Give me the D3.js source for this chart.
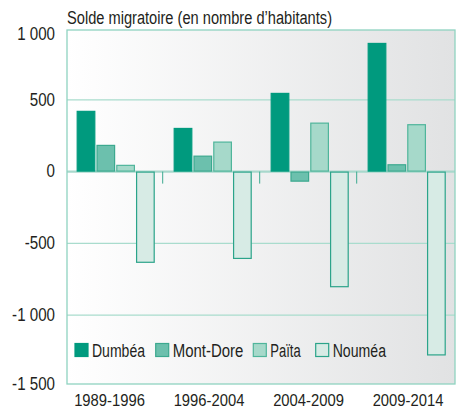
<!DOCTYPE html>
<html><head><meta charset="utf-8">
<script src="https://cdn.jsdelivr.net/npm/d3@7"></script>
<style>
html,body{margin:0;padding:0;background:#fff;}
text{font-family:"Liberation Sans",Arial,sans-serif;fill:#231f20;}
</style></head>
<body><svg id="c" width="459" height="409"></svg>
<script>
const periods = ["1989-1996","1996-2004","2004-2009","2009-2014"];
const communes = ["Dumbéa","Mont-Dore","Païta","Nouméa"];
const dumbea   = [423, 304, 548, 896];
const montDore = [186, 111, -70, 51];
const paita    = [47, 209, 341, 330];
const noumea   = [-635, -608, -805, -1280];
const yTicks = [1000, 500, 0, -500, -1000, -1500];
const title = "Solde migratoire (en nombre d’habitants)";

const series = [dumbea, montDore, paita, noumea];
const fills = ["#009a7e","#6cc0ad","#a6d9ca","#d7ebe5"];
const strokes = ["#009a7e","#3ca98f","#4fb59b","#2ba48a"];

const svg = d3.select("#c");
const L = 67, R = 455, T = 30, B = 384;
const FONT = '"Liberation Sans", Arial, sans-serif';

function condense(sel, f){
  sel.each(function(){
    const w = this.getComputedTextLength();
    d3.select(this).attr("textLength", w*f).attr("lengthAdjust","spacingAndGlyphs");
  });
}

const defs = svg.append("defs");
const g = defs.append("linearGradient").attr("id","bg").attr("x1","0").attr("x2","1").attr("y1","0").attr("y2","0");
g.append("stop").attr("offset","0").attr("stop-color","#ffffff");
g.append("stop").attr("offset","1").attr("stop-color","#e1e2e3");

const x0 = d3.scaleBand().domain(periods).range([L, R]).padding(0);
const x1 = d3.scaleBand().domain(communes).range([9.7, 87.7]).paddingInner(0.06).paddingOuter(0);
const y = d3.scaleLinear().domain([1000, -1500]).range([T - 2, B + 3]);

svg.append("rect").attr("x",L).attr("y",T).attr("width",R-L).attr("height",B-T).attr("fill","url(#bg)");

// gridlines
svg.append("g").selectAll("line").data(yTicks.filter(d => d !== 0 && d !== 1000 && d !== -1500)).join("line")
  .attr("x1",L).attr("x2",R).attr("y1",d=>y(d)).attr("y2",d=>y(d))
  .attr("stroke","#a9dccd").attr("stroke-width",1.3);

// zero line
svg.append("line").attr("x1",L).attr("x2",R).attr("y1",y(0)).attr("y2",y(0))
  .attr("stroke","#a8d8cc").attr("stroke-width",2.2);

// group separator ticks
svg.append("g").selectAll("line").data(periods.slice(1)).join("line")
  .attr("x1",d=>x0(d)-1.3).attr("x2",d=>x0(d)-1.3).attr("y1",y(0)).attr("y2",y(0)+12)
  .attr("stroke","#3ca98f").attr("stroke-width",1);

// bars
const groups = svg.append("g").selectAll("g").data(periods).join("g")
  .attr("transform", d => `translate(${x0(d)},0)`);
groups.selectAll("rect").data((p,i) => communes.map((c,k) => ({c, k, v: series[k][i]}))).join("rect")
  .attr("x", d => x1(d.c) + 0.5)
  .attr("width", x1.bandwidth() - 1)
  .attr("y", d => Math.min(y(d.v), y(0)) + 0.5)
  .attr("height", d => Math.abs(y(d.v) - y(0)) - 1)
  .attr("fill", d => fills[d.k])
  .attr("stroke", d => strokes[d.k])
  .attr("stroke-width", 1.2);

// frame
svg.append("rect").attr("x",L).attr("y",T).attr("width",R-L).attr("height",B-T)
  .attr("fill","none").attr("stroke","#8fd3c1").attr("stroke-width",1.3);

// y labels
const yAxis = d3.axisLeft(y).tickValues(yTicks).tickSize(0).tickPadding(12)
  .tickFormat(d => d3.format(",")(d).replace(/,/g," ").replace("−","-"));
const ya = svg.append("g").attr("transform",`translate(${L},0)`).call(yAxis)
  .attr("font-family", FONT).attr("font-size", 18);
ya.select(".domain").remove();
ya.selectAll("text").attr("fill","#231f20");
ya.selectAll(".tick").attr("transform", d => `translate(0,${d===1000?34:d===-1500?384:y(d)})`);
condense(ya.selectAll("text"), 0.84);

// x labels
const xAxis = d3.axisBottom(x0).tickSize(0).tickPadding(10);
const xa = svg.append("g").attr("transform",`translate(0,${B})`).call(xAxis)
  .attr("font-family", FONT).attr("font-size", 17);
xa.select(".domain").remove();
xa.selectAll("text").attr("fill","#231f20");
xa.selectAll(".tick").attr("transform", (d,i) => `translate(${x0(d)+x0.bandwidth()/2 - 6 + i*2.5},0)`);
condense(xa.selectAll("text"), 0.87);

// title
svg.append("text").attr("x",L).attr("y",24).attr("font-size",18).text(title)
  .attr("textLength",265).attr("lengthAdjust","spacingAndGlyphs");

// legend
const lg = svg.append("g");
const lx = [75, 155.7, 253.3, 315.7];
const lw = [53, 70.7, 30.4, 53.3];
communes.forEach((c,k) => {
  lg.append("rect").attr("x",lx[k]).attr("y",343.5).attr("width",13).attr("height",13)
    .attr("fill",fills[k]).attr("stroke",strokes[k]).attr("stroke-width",1.2);
  lg.append("text").attr("x",lx[k]+17).attr("y",357).attr("font-size",18).text(c)
    .attr("textLength",lw[k]).attr("lengthAdjust","spacingAndGlyphs");
});
</script></body></html>
